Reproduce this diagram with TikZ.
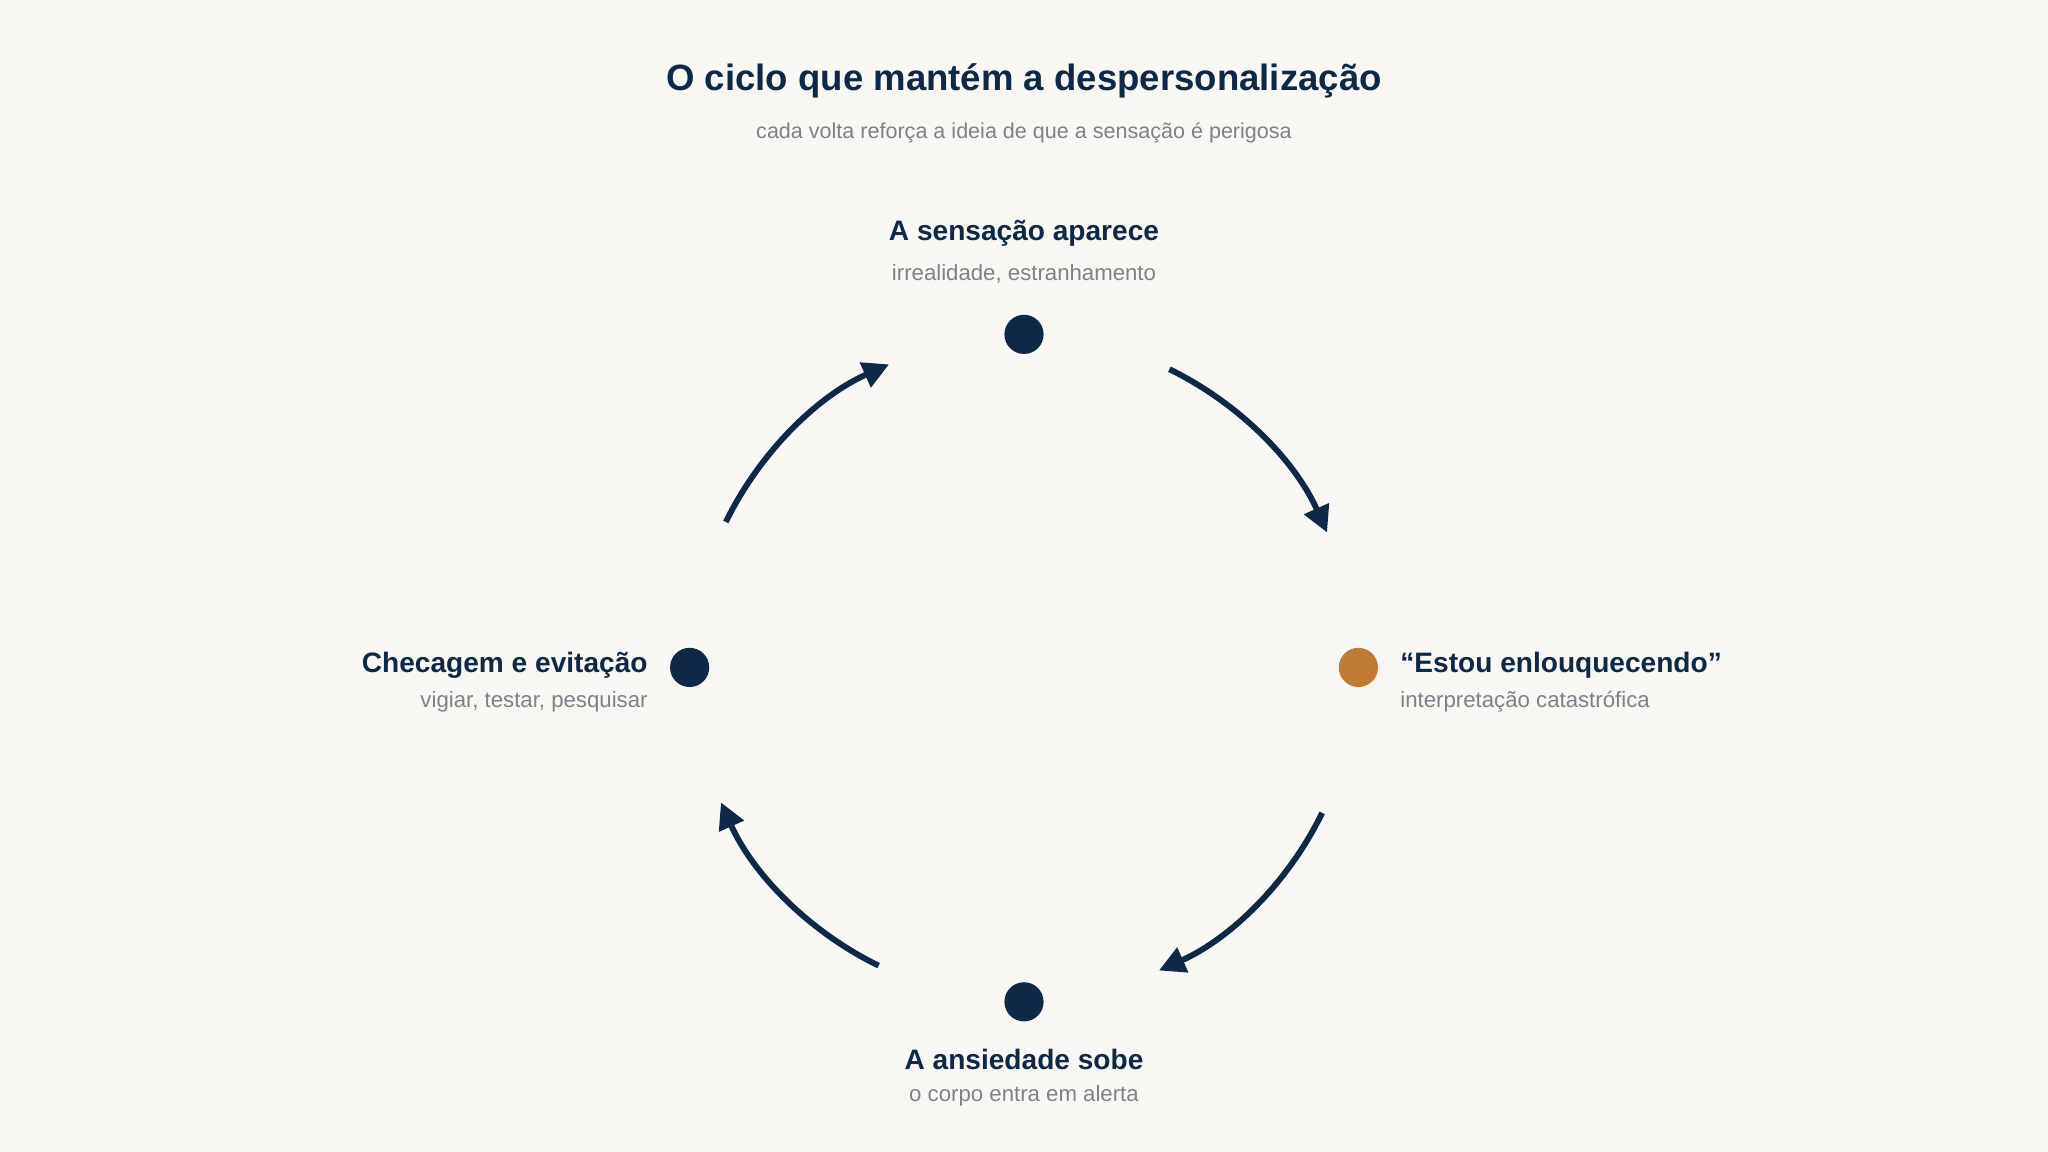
\documentclass[tikz,border=0pt]{standalone}
\usepackage{fontspec}
\setmainfont{Liberation Sans}
\usetikzlibrary{arrows.meta}
\definecolor{navy}{HTML}{0E2846}
\definecolor{ocre}{HTML}{C07A33}
\definecolor{gr}{HTML}{7D8189}
\definecolor{bg}{HTML}{F8F7F3}
\begin{document}
\begin{tikzpicture}[x=1pt,y=-1pt,
 title/.style={font=\fontsize{28}{32}\selectfont\bfseries,text=navy},
 sub/.style={font=\fontsize{16.5}{20}\selectfont,text=gr},
 lab/.style={font=\fontsize{21.5}{25}\selectfont\bfseries,text=navy,inner sep=0},
 slab/.style={font=\fontsize{17}{20}\selectfont,text=gr,inner sep=0},
 dot/.style={circle,minimum size=30pt,inner sep=0},
 arc/.style={draw=navy,line width=4.5pt,-{Triangle[length=20pt,width=20pt]}}]
\fill[bg] (0,0) rectangle (1568,882);
\node[title] (t) at (784,62) {O ciclo que mantém a despersonalização};
\node[sub] (s) at (784,102) {cada volta reforça a ideia de que a sensação é perigosa};
\node[dot,fill=navy] (d1) at (784,256) {};
\node[dot,fill=ocre] (d2) at (1040,511) {};
\node[dot,fill=navy] (d3) at (784,767) {};
\node[dot,fill=navy] (d4) at (528,511) {};
\node[lab] (l1) at (784,179) {A sensação aparece};
\node[slab] (s1) at (784,210) {irrealidade, estranhamento};
\node[lab,anchor=west] (l2) at (1072,509) {“Estou enlouquecendo”};
\node[slab,anchor=west] (s2) at (1072,537) {interpretação catastrófica};
\node[lab] (l3) at (784,811) {A ansiedade sobe};
\node[slab] (s3) at (784,839) {o corpo entra em alerta};
\node[lab,anchor=east] (l4) at (496,509) {Checagem e evitação};
\node[slab,anchor=east] (s4) at (496,537) {vigiar, testar, pesquisar};
\coordinate (c) at (784,511);
\draw[arc] ([shift={(-64:254)}]c) arc[start angle=-64,end angle=-24,radius=254];
\draw[arc] ([shift={(26:254)}]c) arc[start angle=26,end angle=66,radius=254];
\draw[arc] ([shift={(116:254)}]c) arc[start angle=116,end angle=156,radius=254];
\draw[arc] ([shift={(206:254)}]c) arc[start angle=206,end angle=246,radius=254];
\end{tikzpicture}
\end{document}
